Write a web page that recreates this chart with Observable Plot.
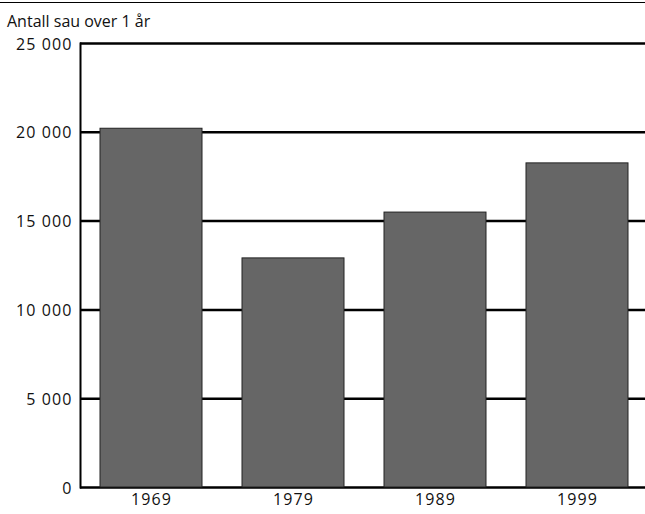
<!DOCTYPE html>
<html>
<head>
<meta charset="utf-8">
<script src="https://cdn.jsdelivr.net/npm/d3@7"></script>
<script src="https://cdn.jsdelivr.net/npm/@observablehq/plot@0.6"></script>
<style>
  body { margin: 0; background: #fff; font-family: "Open Sans", sans-serif; }
  #wrap { position: relative; width: 645px; height: 514px; overflow: hidden; }
  #topline { position: absolute; left: 0; top: 2px; width: 645px; border-top: 1px solid #000; z-index: 2; }
  #title { position: absolute; left: 7px; top: 10px; font-size: 16px; line-height: 22px; color: #111; z-index: 2; }
  #chart { position: absolute; left: 0; top: 0; z-index: 1; }
  #chart svg text { font-size: 16px; font-family: "Open Sans", sans-serif; fill: #111; letter-spacing: 1.1px; }
</style>
</head>
<body>
<div id="wrap">
  <div id="topline"></div>
  <div id="title">Antall sau over 1 år</div>
  <div id="chart"></div>
</div>
<script>
const years = ["1969", "1979", "1989", "1999"];
const sheep = [20200, 12900, 15480, 18250];
const yTicks = [0, 5000, 10000, 15000, 20000, 25000];

const data = years.map((y, i) => ({year: y, value: sheep[i]}));
const fmt = d => d3.format(",")(d).replace(/,/g, " ");

const plot = Plot.plot({
  width: 645,
  height: 514,
  marginTop: 43,
  marginBottom: 27,
  marginLeft: 80,
  marginRight: 0,
  style: {fontFamily: "Open Sans, sans-serif", fontSize: "16px", color: "#111", background: "transparent"},
  x: {domain: years, range: [80, 648], paddingInner: 0.28, paddingOuter: 0.14, label: null},
  y: {domain: [0, 25000], label: null},
  marks: [
    Plot.ruleY(yTicks, {stroke: "#000", strokeWidth: 2.5}),
    Plot.barY(data, {x: "year", y: "value", fill: "#666666", stroke: "#222", strokeWidth: 1}),
    Plot.frame({anchor: "left", stroke: "#000", strokeWidth: 2}),
    Plot.axisY({ticks: yTicks, tickFormat: fmt, tickSize: 0, tickPadding: 8, label: null, dy: 1}),
    Plot.axisX({tickSize: 0, tickPadding: 6, label: null})
  ]
});
document.getElementById("chart").appendChild(plot);
</script>
</body>
</html>
